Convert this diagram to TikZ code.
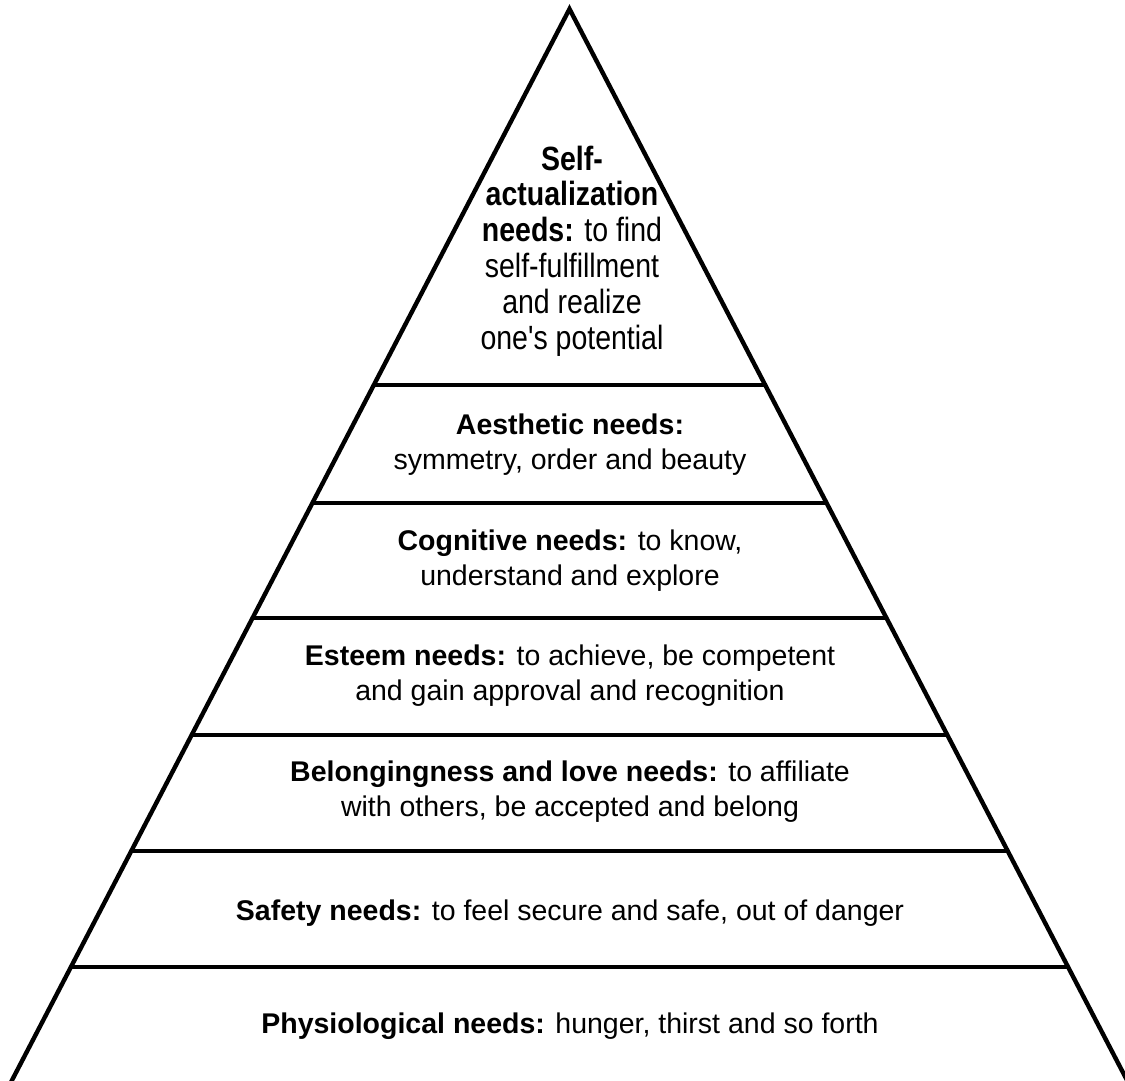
\documentclass[tikz,border=0pt]{standalone}
\usepackage{fontspec}
\usepackage{graphicx}
\setmainfont{Liberation Sans}
\begin{document}
\begin{tikzpicture}[x=1pt,y=-1pt,
  edge/.style={line width=4.4pt,line join=miter,line cap=butt},
  tierline/.style={line width=3.8pt},
  tiertext/.style={inner sep=0pt,anchor=base,font=\fontsize{28.5}{35}\selectfont}]
\useasboundingbox (0,0) rectangle (1125,1081);
\clip (0,0) rectangle (1125,1081);
% pyramid outline
\coordinate (apex) at (569.5,9);
\coordinate (bl) at (9,1086);
\coordinate (br) at (1130,1086);
\draw[edge] (bl) -- (apex) -- (br);
% tier boundaries
\coordinate (l1) at (373.6,385);  \coordinate (r1) at (765.4,385);
\coordinate (l2) at (312.1,503);  \coordinate (r2) at (826.9,503);
\coordinate (l3) at (252.2,618);  \coordinate (r3) at (886.8,618);
\coordinate (l4) at (191.3,735);  \coordinate (r4) at (947.7,735);
\coordinate (l5) at (130.8,851);  \coordinate (r5) at (1008.2,851);
\coordinate (l6) at (70.4,967);   \coordinate (r6) at (1068.6,967);
\foreach \i in {1,...,6} \draw[tierline] (l\i) -- (r\i);
% texts
\node[tiertext] (self) at (572,170) {\fontsize{28.5}{30.5}\selectfont\scalebox{1}[1.18]{\begin{tabular}[t]{@{}c@{}}\textbf{Self-}\\\textbf{actualization}\\\textbf{needs:} to find\\self-fulfillment\\and realize\\one\textquotesingle s potential\end{tabular}}};
\node[tiertext] (aest) at (570,434) {\begin{tabular}[t]{@{}c@{}}\textbf{Aesthetic needs:}\\symmetry, order and beauty\end{tabular}};
\node[tiertext] (cogn) at (570,550) {\begin{tabular}[t]{@{}c@{}}\textbf{Cognitive needs:} to know,\\understand and explore\end{tabular}};
\node[tiertext] (este) at (570,665) {\begin{tabular}[t]{@{}c@{}}\textbf{Esteem needs:} to achieve, be competent\\and gain approval and recognition\end{tabular}};
\node[tiertext] (belo) at (570,781) {\begin{tabular}[t]{@{}c@{}}\textbf{Belongingness and love needs:} to affiliate\\with others, be accepted and belong\end{tabular}};
\node[tiertext] (safe) at (570,920) {\textbf{Safety needs:} to feel secure and safe, out of danger};
\node[tiertext] (phys) at (570,1033) {\textbf{Physiological needs:} hunger, thirst and so forth};
\end{tikzpicture}
\end{document}
